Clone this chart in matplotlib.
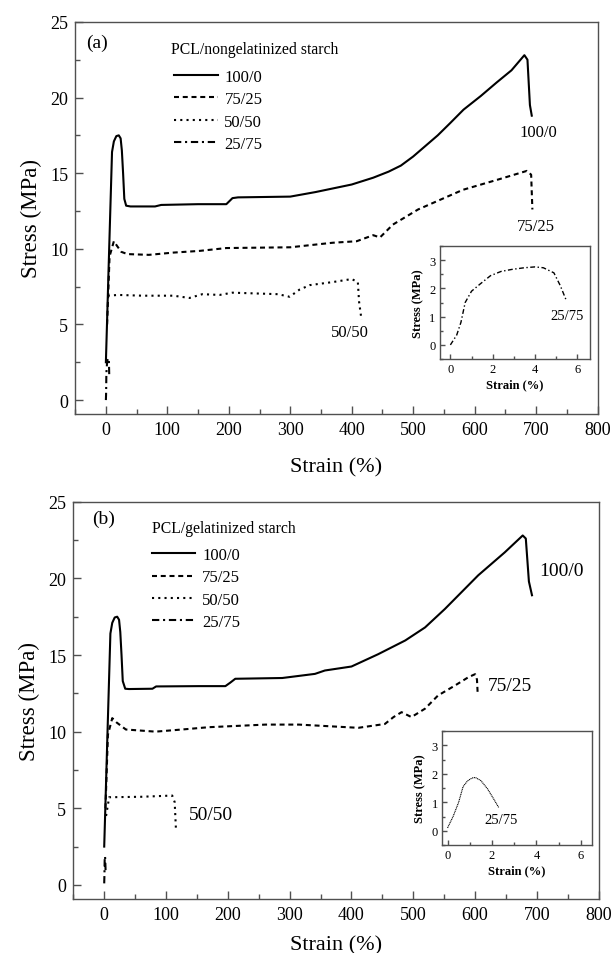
import matplotlib
matplotlib.use("Agg")
import matplotlib.pyplot as plt
from matplotlib.ticker import MultipleLocator

plt.rcParams['font.family'] = ['Liberation Serif', 'DejaVu Serif']

# ---- data ----
# (a) PCL / nongelatinized starch
a_100_x = [0, 5, 10, 13, 17, 21, 24, 26, 28, 30, 33, 40, 80, 90, 150, 196, 206, 215, 300, 341, 400, 435, 460,
           480, 500, 520, 540, 560, 582, 610, 636, 660, 681, 686, 690, 693]
a_100_y = [2.5, 9.5, 16.4, 17.1, 17.45, 17.5, 17.3, 16.5, 15.0, 13.3, 12.85, 12.8, 12.8, 12.9, 12.95, 12.95, 13.35,
           13.4, 13.45, 13.75, 14.25, 14.7, 15.1, 15.5, 16.1, 16.8, 17.5, 18.3, 19.2, 20.1, 21.0, 21.8, 22.8,
           22.5, 19.5, 18.8]

a_75_x = [2, 6, 13, 18, 25, 35, 70, 110, 152, 196, 300, 369, 408, 435, 446, 467, 508, 581, 640, 685, 692, 694]
a_75_y = [5.0, 9.5, 10.5, 10.2, 9.8, 9.65, 9.6, 9.75, 9.86, 10.05, 10.1, 10.4, 10.5, 10.9, 10.75, 11.6, 12.6,
          13.9, 14.6, 15.15, 14.9, 12.6]

a_50_x = [3, 20, 60, 110, 136, 157, 185, 206, 280, 299, 315, 332, 369, 400, 410, 412, 416]
a_50_y = [6.9, 6.95, 6.9, 6.9, 6.75, 7.0, 6.95, 7.1, 7.0, 6.83, 7.3, 7.6, 7.8, 8.0, 7.8, 6.5, 5.3]

a_25_x = [0, 0.3, 0.5, 0.7, 1.0, 1.4, 1.9, 2.4, 2.9, 3.5, 4.0, 4.4, 4.9, 5.2, 5.5]
a_25_y = [0.0, 0.35, 0.8, 1.5, 1.9, 2.15, 2.45, 2.6, 2.67, 2.73, 2.76, 2.73, 2.55, 2.1, 1.55]

# (b) PCL / gelatinized starch
b_100_x = [0, 5, 10, 13, 17, 21, 24, 26, 28, 30, 34, 40, 78, 84, 153, 196, 204, 212, 288, 341, 357, 400, 443,
           487, 519, 551, 605, 648, 677, 682, 687, 692]
b_100_y = [2.5, 9.5, 16.4, 17.1, 17.45, 17.5, 17.3, 16.5, 15.0, 13.3, 12.8, 12.78, 12.8, 12.95, 12.97, 12.97,
           13.2, 13.45, 13.5, 13.77, 13.99, 14.25, 15.05, 15.95, 16.8, 18.0, 20.2, 21.7, 22.8, 22.6, 19.8, 18.9]

b_75_x = [2, 6, 13, 20, 35, 83, 126, 169, 261, 315, 411, 454, 468, 481, 497, 519, 540, 567, 589, 600, 603, 604]
b_75_y = [5.0, 9.8, 10.88, 10.6, 10.14, 10.0, 10.14, 10.29, 10.46, 10.46, 10.25, 10.5, 10.95, 11.27, 10.95,
          11.5, 12.36, 13.0, 13.55, 13.75, 13.4, 12.6]

b_50_x = [3, 8, 60, 110, 114, 116]
b_50_y = [4.5, 5.72, 5.75, 5.83, 5.4, 3.66]

b_25_x = [0, 0.25, 0.5, 0.7, 0.9, 1.1, 1.25, 1.5, 1.8, 2.05, 2.3]
b_25_y = [0.1, 0.5, 1.0, 1.55, 1.75, 1.85, 1.87, 1.76, 1.47, 1.15, 0.82]

labels = ['100/0', '75/25', '50/50', '25/75']

ls_solid = '-'
ls_dash = (0, (2.4, 1.8))
ls_dot = (0, (1, 2))
ls_dashdot = (0, (3.5, 1.8, 1, 1.8))
styles = [ls_solid, ls_dash, ls_dot, ls_dashdot]
LW = 1.5
SPINE = '#505050'


def style_axes(ax, xmaj, xmin_, ymaj, ymin_, size, length):
    ax.xaxis.set_major_locator(MultipleLocator(xmaj))
    ax.xaxis.set_minor_locator(MultipleLocator(xmin_))
    ax.yaxis.set_major_locator(MultipleLocator(ymaj))
    ax.yaxis.set_minor_locator(MultipleLocator(ymin_))
    ax.tick_params(which='both', direction='in', top=False, right=False,
                   color=SPINE, labelsize=size, width=1.0)
    ax.tick_params(which='major', length=length, pad=5)
    ax.tick_params(which='minor', length=length * 0.55)
    for s in ax.spines.values():
        s.set_color(SPINE)
        s.set_linewidth(1.0)


fig = plt.figure(figsize=(6.16, 9.54), dpi=100)

panels = [
    dict(rect=[0.122, 0.565, 0.848, 0.411], tag='(a)', tagpos=(0.021, 0.949),
         title='PCL/nongelatinized starch', titlepos=(0.184, 0.932), legpos=(0.19, 0.88),
         xlabelpad=14,
         curves=[(a_100_x, a_100_y), (a_75_x, a_75_y), (a_50_x, a_50_y), (a_25_x, a_25_y)],
         notes=[('100/0', 704, 17.7), ('75/25', 700, 11.5), ('50/50', 397, 4.5)],
         notesize=12,
         inset=[0.714, 0.6226, 0.2435, 0.1185], inxlim=(-0.5, 6.6),
         inset_ls=ls_dashdot, inset_lw=1.0, innote=(5.5, 1.05)),
    dict(rect=[0.119, 0.0566, 0.853, 0.4164], tag='(b)', tagpos=(0.036, 0.957),
         title='PCL/gelatinized starch', titlepos=(0.150, 0.935), legpos=(0.150, 0.886),
         xlabelpad=9,
         curves=[(b_100_x, b_100_y), (b_75_x, b_75_y), (b_50_x, b_50_y), (b_25_x, b_25_y)],
         notes=[('100/0', 740, 20.5), ('75/25', 656, 13.0), ('50/50', 172, 4.6)],
         notesize=14,
         inset=[0.7175, 0.1132, 0.2435, 0.1195], inxlim=(-0.25, 6.5),
         inset_ls=(0, (1, 0.6)), inset_lw=0.8, innote=(2.4, 0.41)),
]

for p in panels:
    ax = fig.add_axes(p['rect'])
    handles = []
    for (x, y), ls in zip(p['curves'], styles):
        h, = ax.plot(x, y, color='black', linestyle=ls, linewidth=LW)
        handles.append(h)
    ax.set_xlim(-50, 800)
    ax.set_ylim(-0.92, 25)
    style_axes(ax, 100, 50, 5, 2.5, 13, 6)
    ax.set_xlabel('Strain (%)', fontsize=16, labelpad=p['xlabelpad'])
    ax.set_ylabel('Stress (MPa)', fontsize=16.5, labelpad=6)
    ax.text(p['tagpos'][0], p['tagpos'][1], p['tag'], transform=ax.transAxes,
            fontsize=14, va='center', ha='left')
    ax.text(p['titlepos'][0], p['titlepos'][1], p['title'], transform=ax.transAxes,
            fontsize=11.3, va='center', ha='left')
    ax.legend(handles, labels, loc='upper left', bbox_to_anchor=p['legpos'],
              frameon=False, fontsize=12, handlelength=2.6, handletextpad=0.4,
              labelspacing=0.38, borderpad=0, borderaxespad=0)
    for t, x, y in p['notes']:
        ax.text(x, y, t, fontsize=p['notesize'], ha='center', va='center')

    ins = fig.add_axes(p['inset'])
    ix, iy = p['curves'][3]
    ins.plot(ix, iy, color='black', linestyle=p['inset_ls'], linewidth=p['inset_lw'])
    ins.set_xlim(*p['inxlim'])
    ins.set_ylim(-0.5, 3.5)
    style_axes(ins, 2, 1, 1, 0.5, 9, 3.5)
    ins.tick_params(which='major', pad=3)
    ins.set_xlabel('Strain (%)', fontsize=9, fontweight='bold', labelpad=2)
    ins.set_ylabel('Stress (MPa)', fontsize=9, fontweight='bold', labelpad=4)
    ins.text(p['innote'][0], p['innote'][1], '25/75', fontsize=10.5,
             ha='center', va='center')

fig.savefig('out.png', dpi=100)
